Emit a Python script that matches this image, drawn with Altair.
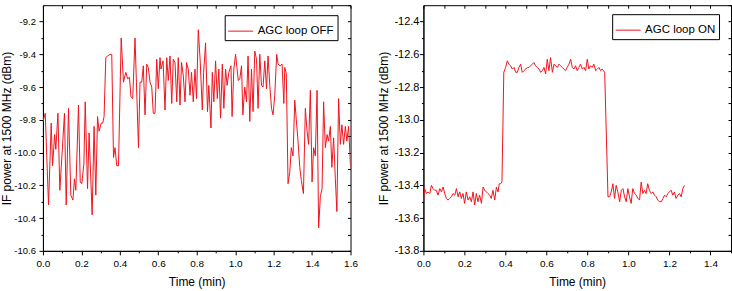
import altair as alt
import pandas as pd

# ---- AGC loop OFF trace: time (min) and IF power at 1500 MHz (dBm) ----
off_time = [
    0.000, 0.012, 0.029, 0.043, 0.050, 0.061, 0.067, 0.078, 0.088, 0.112,
    0.121, 0.133, 0.145, 0.156, 0.164, 0.171, 0.185, 0.194, 0.202, 0.213,
    0.220, 0.232, 0.240, 0.256, 0.266, 0.275, 0.284, 0.292, 0.303, 0.311,
    0.318, 0.327, 0.337, 0.349, 0.358, 0.367, 0.375, 0.384, 0.393, 0.407,
    0.419, 0.431, 0.441, 0.450, 0.458, 0.467, 0.479, 0.497, 0.505, 0.514,
    0.522, 0.531, 0.540, 0.548, 0.557, 0.566, 0.574, 0.583, 0.592, 0.600,
    0.609, 0.614, 0.625, 0.635, 0.644, 0.652, 0.661, 0.670, 0.678, 0.687,
    0.696, 0.704, 0.713, 0.721, 0.730, 0.739, 0.747, 0.756, 0.765, 0.773,
    0.782, 0.791, 0.799, 0.808, 0.818, 0.829, 0.836, 0.846, 0.856, 0.863,
    0.874, 0.881, 0.889, 0.898, 0.907, 0.915, 0.924, 0.933, 0.941, 0.950,
    0.958, 0.967, 0.978, 0.984, 0.993, 1.002, 1.009, 1.016, 1.024, 1.033,
    1.040, 1.050, 1.059, 1.067, 1.076, 1.085, 1.093, 1.102, 1.111, 1.119,
    1.128, 1.137, 1.145, 1.154, 1.163, 1.171, 1.180, 1.189, 1.197, 1.206,
    1.216, 1.223, 1.234, 1.244, 1.253, 1.258, 1.266, 1.275, 1.284, 1.292,
    1.301, 1.310, 1.318, 1.327, 1.336, 1.344, 1.355, 1.365, 1.374, 1.382,
    1.391, 1.400, 1.408, 1.417, 1.426, 1.434, 1.443, 1.452, 1.460, 1.469,
    1.478, 1.486, 1.495, 1.503, 1.512, 1.521, 1.529, 1.538, 1.547, 1.555,
    1.564, 1.573, 1.581, 1.590, 1.600,
]
off_power = [
    -9.81, -9.76, -10.32, -9.82, -10.08, -9.89, -9.98, -9.76, -10.23, -9.76,
    -10.32, -9.73, -10.26, -10.29, -10.16, -10.23, -9.71, -10.18, -10.19, -10.07,
    -9.69, -10.22, -9.88, -10.38, -9.84, -10.26, -9.78, -9.87, -9.82, -9.82,
    -9.78, -9.42, -9.41, -9.40, -9.40, -10.03, -9.97, -10.08, -10.08, -9.30,
    -9.57, -9.51, -9.55, -9.54, -9.66, -9.67, -9.30, -9.97, -9.57, -9.57,
    -9.47, -9.77, -9.46, -9.48, -9.57, -9.60, -9.76, -9.76, -9.43, -9.61,
    -9.42, -9.49, -9.44, -9.74, -9.42, -9.56, -9.41, -9.70, -9.43, -9.45,
    -9.69, -9.42, -9.71, -9.45, -9.53, -9.69, -9.45, -9.49, -9.65, -9.51,
    -9.69, -9.49, -9.67, -9.25, -9.44, -9.74, -9.51, -9.33, -9.75, -9.59,
    -9.85, -9.51, -9.69, -9.44, -9.67, -9.49, -9.79, -9.46, -9.73, -9.49,
    -9.59, -9.51, -9.47, -9.78, -9.49, -9.40, -9.48, -9.56, -9.55, -9.47,
    -9.77, -9.60, -9.69, -9.41, -9.81, -9.49, -9.75, -9.38, -9.43, -9.73,
    -9.40, -9.59, -9.60, -9.44, -9.61, -9.41, -9.59, -9.73, -9.77, -9.65,
    -9.40, -9.46, -9.47, -9.46, -9.70, -9.48, -9.52, -10.19, -10.12, -9.97,
    -10.02, -9.68, -9.80, -9.93, -10.09, -10.17, -10.25, -9.73, -9.87, -9.95,
    -9.62, -10.18, -9.97, -10.02, -9.62, -10.46, -10.27, -10.22, -9.69, -9.97,
    -9.89, -9.93, -9.84, -10.09, -9.91, -10.16, -10.36, -9.67, -9.95, -9.83,
    -9.95, -9.84, -9.93, -9.84, -10.09,
]

# ---- AGC loop ON trace ----
on_time = [
    0.000, 0.006, 0.015, 0.023, 0.031, 0.039, 0.047, 0.055, 0.063, 0.071,
    0.080, 0.088, 0.096, 0.104, 0.112, 0.120, 0.128, 0.136, 0.145, 0.153,
    0.161, 0.169, 0.177, 0.185, 0.193, 0.201, 0.209, 0.218, 0.226, 0.234,
    0.242, 0.250, 0.258, 0.266, 0.274, 0.283, 0.291, 0.299, 0.307, 0.315,
    0.323, 0.331, 0.339, 0.348, 0.356, 0.364, 0.370, 0.377, 0.383, 0.392,
    0.401, 0.409, 0.417, 0.425, 0.434, 0.442, 0.450, 0.458, 0.466, 0.474,
    0.482, 0.490, 0.499, 0.507, 0.515, 0.523, 0.531, 0.539, 0.547, 0.555,
    0.564, 0.572, 0.580, 0.588, 0.596, 0.604, 0.612, 0.620, 0.629, 0.637,
    0.645, 0.653, 0.661, 0.669, 0.677, 0.685, 0.693, 0.701, 0.710, 0.718,
    0.726, 0.734, 0.742, 0.750, 0.758, 0.766, 0.775, 0.783, 0.791, 0.799,
    0.807, 0.815, 0.823, 0.831, 0.840, 0.848, 0.856, 0.864, 0.872, 0.884,
    0.900, 0.908, 0.916, 0.924, 0.932, 0.940, 0.948, 0.957, 0.965, 0.973,
    0.981, 0.989, 0.997, 1.005, 1.013, 1.021, 1.030, 1.038, 1.046, 1.054,
    1.062, 1.070, 1.078, 1.086, 1.094, 1.102, 1.111, 1.119, 1.127, 1.135,
    1.143, 1.151, 1.160, 1.168, 1.176, 1.184, 1.192, 1.200, 1.208, 1.216,
    1.224, 1.232, 1.241, 1.249, 1.257, 1.265, 1.273,
]
on_power = [
    -13.50, -13.42, -13.45, -13.44, -13.45, -13.40, -13.42, -13.43, -13.43, -13.46,
    -13.42, -13.44, -13.41, -13.45, -13.48, -13.49, -13.48, -13.47, -13.45, -13.46,
    -13.42, -13.47, -13.44, -13.48, -13.45, -13.51, -13.44, -13.49, -13.47, -13.50,
    -13.44, -13.52, -13.45, -13.50, -13.46, -13.51, -13.41, -13.43, -13.44, -13.45,
    -13.46, -13.48, -13.43, -13.49, -13.41, -13.44, -13.39, -13.39, -13.38, -12.71,
    -12.68, -12.64, -12.66, -12.67, -12.69, -12.68, -12.71, -12.71, -12.68, -12.66,
    -12.71, -12.70, -12.69, -12.68, -12.68, -12.67, -12.66, -12.65, -12.67, -12.68,
    -12.69, -12.71, -12.70, -12.68, -12.72, -12.63, -12.70, -12.62, -12.71, -12.66,
    -12.67, -12.68, -12.66, -12.67, -12.68, -12.69, -12.70, -12.68, -12.66, -12.63,
    -12.68, -12.69, -12.67, -12.70, -12.68, -12.66, -12.69, -12.68, -12.70, -12.63,
    -12.69, -12.67, -12.68, -12.66, -12.70, -12.69, -12.68, -12.70, -12.69, -12.71,
    -13.47, -13.47, -13.44, -13.39, -13.48, -13.40, -13.44, -13.50, -13.43, -13.42,
    -13.47, -13.50, -13.42, -13.47, -13.51, -13.42, -13.45, -13.46, -13.48, -13.49,
    -13.38, -13.45, -13.43, -13.45, -13.39, -13.43, -13.45, -13.44, -13.46, -13.47,
    -13.49, -13.50, -13.50, -13.48, -13.46, -13.47, -13.45, -13.44, -13.43, -13.46,
    -13.44, -13.48, -13.46, -13.45, -13.47, -13.42, -13.40,
]

# ---- axis ranges and tick positions (every 0.1, labels every 0.2) ----
off_x_domain = [0.0, 1.6]
off_y_domain = [-10.6, -9.1]
on_x_domain = [0.0, 1.5]
on_y_domain = [-13.8, -12.3]

off_x_ticks = [0.0, 0.1, 0.2, 0.3, 0.4, 0.5, 0.6, 0.7, 0.8, 0.9, 1.0, 1.1, 1.2, 1.3, 1.4, 1.5, 1.6]
off_y_ticks = [-10.6, -10.5, -10.4, -10.3, -10.2, -10.1, -10.0, -9.9, -9.8, -9.7, -9.6, -9.5, -9.4, -9.3, -9.2]
on_x_ticks = [0.0, 0.1, 0.2, 0.3, 0.4, 0.5, 0.6, 0.7, 0.8, 0.9, 1.0, 1.1, 1.2, 1.3, 1.4, 1.5]
on_y_ticks = [-13.8, -13.7, -13.6, -13.5, -13.4, -13.3, -13.2, -13.1, -13.0, -12.9, -12.8, -12.7, -12.6, -12.5, -12.4]
off_y_edge = [-9.1]
on_y_edge = [-12.3]

RED = "#f0141e"
FONT = "Liberation Sans"
PANEL_W = 308
PANEL_H = 246

MAJOR = "abs(datum.value / 0.2 - round(datum.value / 0.2)) < 0.001"
LABEL = f"{MAJOR} ? replace(format(datum.value, '.1f'), '\u2212', '-') : ''"
TICK_SIZE = {"condition": {"test": MAJOR, "value": 4}, "value": 2}


def main_axis(orient, ticks, title, label_size, label_pad, title_pad):
    return alt.Axis(
        orient=orient, values=ticks, title=title, labelExpr=LABEL,
        tickSize=TICK_SIZE, tickColor="black", tickWidth=1,
        domain=True, domainColor="black", grid=False,
        labelFont=FONT, labelFontSize=label_size, labelColor="black",
        labelPadding=label_pad, labelFlush=False, labelOverlap=False,
        titleFont=FONT, titleFontSize=12, titleFontWeight="normal",
        titleColor="black", titlePadding=title_pad,
    )


def frame_axis(orient, ticks):
    # inward ticks on the top and right edges of the box
    return alt.Axis(
        orient=orient, values=ticks, title=None, labels=False, domain=False,
        grid=False, tickSize=3, tickColor="black", tickWidth=1, offset=-3,
    )


def panel(time, power, label, xdom, ydom, xticks, yticks, yedge, leg_x, leg_y,
          ylab_size, ylab_pad, ytitle_pad):
    df = pd.DataFrame({"time": time, "power": power, "series": label})
    base = alt.Chart(df)
    xs = alt.Scale(domain=xdom, nice=False, zero=False)
    ys = alt.Scale(domain=ydom, nice=False, zero=False)
    color = alt.Color(
        "series:N",
        scale=alt.Scale(domain=[label], range=[RED]),
        legend=alt.Legend(
            title=None, orient="none", legendX=leg_x, legendY=leg_y,
            symbolType="stroke", symbolSize=625, symbolStrokeWidth=1,
            labelFont=FONT, labelFontSize=11.5, labelColor="black",
            labelOffset=4, padding=3, strokeColor="black",
            fillColor="white", cornerRadius=0,
        ),
    )
    trace = base.mark_line(strokeWidth=1, clip=True).encode(
        x=alt.X("time:Q", scale=xs,
                axis=main_axis("bottom", xticks, "Time (min)", 10, 4, 8)),
        y=alt.Y("power:Q", scale=ys,
                axis=main_axis("left", yticks, "IF power at 1500 MHz (dBm)",
                               ylab_size, ylab_pad, ytitle_pad)),
        color=color,
        order="time:Q",
    )
    box = base.mark_line(opacity=0).encode(
        x=alt.X("time:Q", scale=xs, axis=frame_axis("top", xticks)),
        y=alt.Y("power:Q", scale=ys, axis=frame_axis("right", yticks + yedge)),
    )
    return (
        alt.layer(trace, box)
        .resolve_axis(x="independent", y="independent")
        .properties(width=PANEL_W, height=PANEL_H)
    )


left = panel(off_time, off_power, "AGC loop OFF", off_x_domain, off_y_domain,
             off_x_ticks, off_y_ticks, off_y_edge, 182, 10, 9.5, 3.5, 0)
right = panel(on_time, on_power, "AGC loop ON", on_x_domain, on_y_domain,
              on_x_ticks, on_y_ticks, on_y_edge, 189, 9, 11, 0.5, 3)

chart = (
    alt.hconcat(left, right, spacing=73, bounds="flush")
    .resolve_scale(color="independent")
    .properties(padding={"left": 0, "top": 4, "right": 0, "bottom": 0},
                background="white")
    .configure_view(stroke="black", strokeWidth=1)
)

chart.save("out.html", embed_options={"renderer": "svg", "actions": False})
